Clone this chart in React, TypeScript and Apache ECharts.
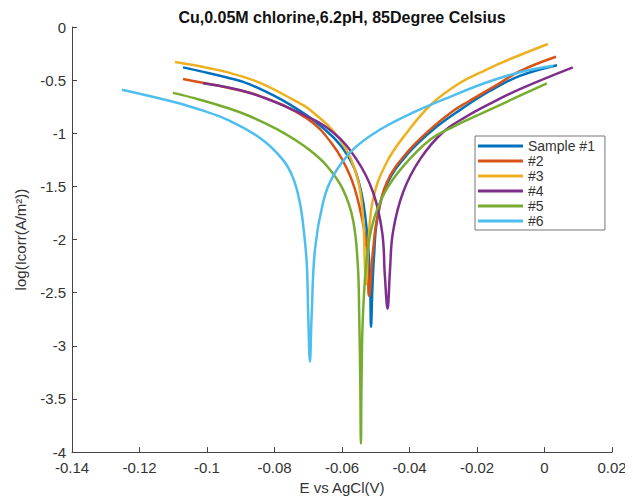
import React, { useEffect, useRef } from "react";
import * as echarts from "echarts";

// Potentiodynamic polarization (Tafel) curves: [E (V vs AgCl), log10 |i| (A/m^2)]
const sample1: [number, number][] = [
  [-0.1071, -0.38], [-0.1021, -0.415], [-0.0941, -0.475], [-0.0873, -0.54],
  [-0.0754, -0.73], [-0.0656, -0.95], [-0.0585, -1.2], [-0.0547, -1.5],
  [-0.0526, -1.93], [-0.0517, -2.40], [-0.0514, -2.82],
  [-0.0510, -2.46], [-0.0505, -2.15], [-0.0496, -1.82], [-0.0467, -1.48],
  [-0.0407, -1.20], [-0.0330, -0.965], [-0.0250, -0.78], [-0.0161, -0.60],
  [-0.0073, -0.46], [0.0037, -0.36],
];
const sample2: [number, number][] = [
  [-0.1071, -0.49], [-0.1021, -0.52], [-0.0941, -0.57], [-0.0843, -0.65],
  [-0.0704, -0.86], [-0.0627, -1.11], [-0.0576, -1.40], [-0.0547, -1.71],
  [-0.0526, -2.09], [-0.0520, -2.53],
  [-0.0508, -2.10], [-0.0496, -1.80], [-0.0467, -1.46], [-0.0407, -1.18],
  [-0.0330, -0.94], [-0.0271, -0.79], [-0.0230, -0.71], [-0.0141, -0.545],
  [-0.0073, -0.415], [0.0034, -0.28],
];
const sample3: [number, number][] = [
  [-0.1095, -0.33], [-0.1021, -0.37], [-0.0941, -0.425], [-0.0843, -0.525],
  [-0.0745, -0.684], [-0.0695, -0.778], [-0.0606, -1.06], [-0.0556, -1.405],
  [-0.0538, -1.78], [-0.0532, -2.25], [-0.0529, -2.42],
  [-0.0523, -2.09], [-0.0508, -1.62], [-0.0467, -1.27], [-0.0407, -0.99],
  [-0.0333, -0.72], [-0.0250, -0.525], [-0.0191, -0.43], [-0.0123, -0.33],
  [0.0010, -0.16],
];
const sample4: [number, number][] = [
  [-0.1012, -0.53], [-0.0873, -0.62], [-0.0724, -0.81], [-0.0627, -0.99],
  [-0.0556, -1.25], [-0.0508, -1.555], [-0.0481, -1.93], [-0.0473, -2.34],
  [-0.0465, -2.65],
  [-0.0458, -2.30], [-0.0449, -1.93], [-0.0419, -1.555], [-0.0369, -1.246],
  [-0.0301, -0.99], [-0.0230, -0.84], [-0.0170, -0.735], [-0.0073, -0.585],
  [0.0084, -0.38],
];
const sample5: [number, number][] = [
  [-0.1101, -0.62], [-0.1021, -0.684], [-0.0941, -0.76], [-0.0873, -0.84],
  [-0.0793, -0.96], [-0.0745, -1.05], [-0.0695, -1.16], [-0.0644, -1.31],
  [-0.0597, -1.53], [-0.0567, -1.82], [-0.0553, -2.25], [-0.0549, -2.72],
  [-0.0546, -3.3], [-0.0544, -3.92],
  [-0.0542, -3.3], [-0.0538, -2.72], [-0.0526, -2.155], [-0.0508, -1.836],
  [-0.0473, -1.555], [-0.0419, -1.311], [-0.0339, -1.06], [-0.0265, -0.93],
  [-0.0191, -0.82], [-0.0123, -0.72], [0.0007, -0.53],
];
const sample6: [number, number][] = [
  [-0.1252, -0.59], [-0.1089, -0.712], [-0.1021, -0.778], [-0.0941, -0.871],
  [-0.0843, -1.045], [-0.0775, -1.25], [-0.0745, -1.42], [-0.0725, -1.65],
  [-0.0712, -1.95], [-0.0704, -2.25], [-0.0700, -2.72], [-0.0695, -3.15],
  [-0.0690, -2.72], [-0.0680, -2.09], [-0.0656, -1.649], [-0.0627, -1.405],
  [-0.0567, -1.152], [-0.0487, -0.965], [-0.0390, -0.806], [-0.0271, -0.645],
  [-0.0170, -0.52], [-0.0073, -0.425], [0.0025, -0.365],
];

const seriesNames = ["Sample #1", "#2", "#3", "#4", "#5", "#6"];
const seriesData = [sample1, sample2, sample3, sample4, sample5, sample6];
const seriesColors = ["#0072BD", "#D95319", "#EDB120", "#7E2F8E", "#77AC30", "#4DBEEE"];

const titleText = "Cu,0.05M chlorine,6.2pH, 85Degree Celsius";
const xAxisTitle = "E vs AgCl(V)";
const yAxisTitle = "log(Icorr(A/m\u00B2))";

const FONT = "'Liberation Sans', Arial, Helvetica, sans-serif";
const AXIS_COLOR = "#444";
const TEXT_COLOR = "#333";

export default function App() {
  const ref = useRef<HTMLDivElement>(null);

  useEffect(() => {
    if (!ref.current) return;
    const chart = echarts.init(ref.current, undefined, { renderer: "svg" });

    const gridLeft = 72;
    const gridRight = 21;
    const gridTop = 27;
    const gridBottom = 46;

    chart.setOption({
      animation: false,
      backgroundColor: "#fff",
      grid: { left: gridLeft, right: gridRight, top: gridTop, bottom: gridBottom, containLabel: false },
      graphic: [
        {
          type: "text",
          x: (gridLeft + 633 - gridRight) / 2,
          y: 17,
          style: {
            text: titleText,
            fill: "#111",
            font: `bold 16px ${FONT}`,
            textAlign: "center",
            textVerticalAlign: "middle",
          },
        },
      ],
      legend: {
        orient: "vertical",
        left: 475,
        top: 136,
        icon: "rect",
        itemWidth: 45,
        itemHeight: 3,
        itemGap: 1,
        padding: [3, 10, 2, 3],
        borderColor: "#777",
        borderWidth: 1,
        backgroundColor: "#fff",
        textStyle: { fontFamily: FONT, fontSize: 14, color: TEXT_COLOR, lineHeight: 14 },
        data: seriesNames,
      },
      xAxis: {
        type: "value",
        min: -0.14,
        max: 0.02,
        interval: 0.02,
        name: xAxisTitle,
        nameLocation: "middle",
        nameGap: 26,
        nameTextStyle: { fontFamily: FONT, fontSize: 15, color: TEXT_COLOR },
        axisLine: { show: true, onZero: false, lineStyle: { color: AXIS_COLOR, width: 1 } },
        axisTick: { show: true, inside: true, length: 5, lineStyle: { color: AXIS_COLOR } },
        axisLabel: {
          fontFamily: FONT,
          fontSize: 15,
          color: TEXT_COLOR,
          margin: 8,
          formatter: (v: number) => String(+v.toFixed(2)),
        },
        splitLine: { show: false },
      },
      yAxis: {
        type: "value",
        min: -4,
        max: 0,
        interval: 0.5,
        name: yAxisTitle,
        nameLocation: "middle",
        nameGap: 44,
        nameRotate: 90,
        nameTextStyle: { fontFamily: FONT, fontSize: 15, color: TEXT_COLOR },
        axisLine: { show: true, onZero: false, lineStyle: { color: AXIS_COLOR, width: 1 } },
        axisTick: { show: true, inside: true, length: 5, lineStyle: { color: AXIS_COLOR } },
        axisLabel: {
          fontFamily: FONT,
          fontSize: 15,
          lineHeight: 13,
          color: TEXT_COLOR,
          margin: 6,
          formatter: (v: number) => String(+v.toFixed(1)),
        },
        splitLine: { show: false },
      },
      series: seriesNames.map((name, i) => ({
        name,
        type: "line",
        data: seriesData[i],
        showSymbol: false,
        symbol: "none",
        smooth: 0.4,
        lineStyle: { color: seriesColors[i], width: 2.5 },
        itemStyle: { color: seriesColors[i] },
      })),
    });

    return () => chart.dispose();
  }, []);

  return <div ref={ref} style={{ width: 633, height: 500, marginLeft: -8, marginTop: -8 }} />;
}
